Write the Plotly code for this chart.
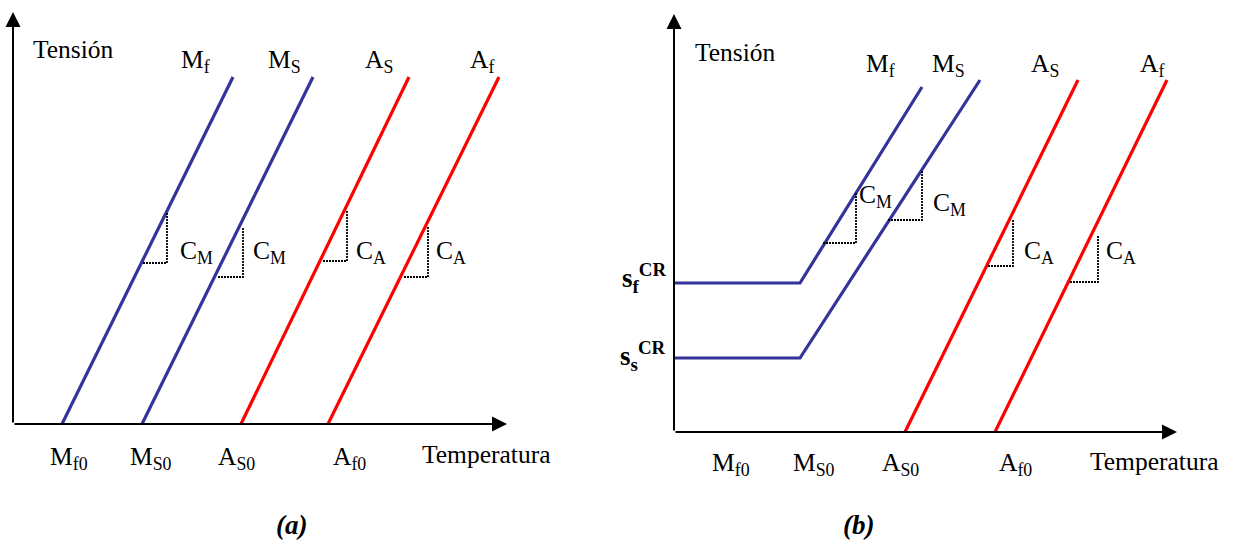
import plotly.graph_objects as go

W, H = 1233, 541

# ---------------- DATA ----------------
# Panel (a): transformation lines (temperature at zero stress -> top end), arbitrary units
a_names = ["Mf", "Ms", "As", "Af"]
a_T_start = [49, 129, 228, 315]
a_T_end = [220, 300, 396, 486]
a_sig_end = [347, 347, 347, 347]
# slope triangles (panel a): base stress, left T, right T, top stress
a_tri_base = [161, 147, 163, 147]
a_tri_left = [130, 205, 310, 391]
a_tri_right = [154, 230, 334, 415]
a_tri_top = [211, 197, 213, 197]

# Panel (b): martensite lines with critical-stress plateau, austenite lines
b_M_names = ["Mf", "Ms"]
b_M_sig_cr = [149, 74]
b_M_T_kink = [126, 126]
b_M_T_end = [248, 306]
b_M_sig_end = [345, 352]
b_A_names = ["As", "Af"]
b_A_T_start = [231, 321]
b_A_T_end = [404, 493]
b_A_sig_end = [352, 352]
# slope triangles (panel b)
b_tri_base = [189, 212, 166, 150]
b_tri_left = [149, 214, 314, 396]
b_tri_right = [182, 248, 339, 424]
b_tri_top = [240, 262, 212, 196]

BLUE = "#333399"
RED = "#ff0000"
a_colors = [BLUE, BLUE, RED, RED]

FONT = "Liberation Serif, Times New Roman, serif"
FS = 25.5
DASH = dict(color="black", width=1.8, dash="2px,1px")

fig = go.Figure()

# panel a lines
for i in range(4):
    fig.add_trace(go.Scatter(x=[a_T_start[i], a_T_end[i]], y=[0, a_sig_end[i]],
                             mode="lines", line=dict(color=a_colors[i], width=3.2),
                             xaxis="x", yaxis="y", hoverinfo="skip"))
for i in range(4):
    fig.add_trace(go.Scatter(x=[a_tri_left[i], a_tri_right[i], a_tri_right[i]],
                             y=[a_tri_base[i], a_tri_base[i], a_tri_top[i]],
                             mode="lines", line=DASH,
                             xaxis="x", yaxis="y", hoverinfo="skip"))

# panel b lines
for i in range(2):
    fig.add_trace(go.Scatter(x=[0, b_M_T_kink[i], b_M_T_end[i]],
                             y=[b_M_sig_cr[i], b_M_sig_cr[i], b_M_sig_end[i]],
                             mode="lines", line=dict(color=BLUE, width=3.2),
                             xaxis="x2", yaxis="y2", hoverinfo="skip", cliponaxis=False))
for i in range(2):
    fig.add_trace(go.Scatter(x=[b_A_T_start[i], b_A_T_end[i]], y=[0, b_A_sig_end[i]],
                             mode="lines", line=dict(color=RED, width=3.2),
                             xaxis="x2", yaxis="y2", hoverinfo="skip"))
for i in range(4):
    fig.add_trace(go.Scatter(x=[b_tri_left[i], b_tri_right[i], b_tri_right[i]],
                             y=[b_tri_base[i], b_tri_base[i], b_tri_top[i]],
                             mode="lines", line=DASH,
                             xaxis="x2", yaxis="y2", hoverinfo="skip"))

ax_common = dict(visible=False, showgrid=False, zeroline=False, fixedrange=True)
fig.update_layout(
    width=W, height=H, margin=dict(l=0, r=0, t=0, b=0),
    paper_bgcolor="white", plot_bgcolor="white", showlegend=False,
    font=dict(family=FONT, size=FS, color="black"),
    xaxis=dict(domain=[13 / W, 507 / W], range=[0, 494], **ax_common),
    yaxis=dict(domain=[1 - 424 / H, 1 - 12 / H], range=[0, 412], **ax_common),
    xaxis2=dict(domain=[674 / W, 1177 / W], range=[0, 503], anchor="y2", **ax_common),
    yaxis2=dict(domain=[1 - 432 / H, 1 - 14 / H], range=[0, 418], anchor="x2", **ax_common),
)

# axes with arrows
def axis_arrow(xr, yr, x, y):
    fig.add_annotation(x=x, y=y, ax=0, ay=0, xref=xr, yref=yr, axref=xr, ayref=yr,
                       text="", showarrow=True, arrowhead=2, arrowsize=1.5,
                       arrowwidth=2, arrowcolor="black")

axis_arrow("x", "y", 494, 0)
axis_arrow("x", "y", 0, 412)
axis_arrow("x2", "y2", 503, 0)
axis_arrow("x2", "y2", 0, 418)

def lab(text, px, py, size=FS):
    fig.add_annotation(text=text, x=px / W, y=1 - py / H, xref="paper", yref="paper",
                       xanchor="left", yanchor="middle", showarrow=False,
                       font=dict(family=FONT, size=size, color="black"))

# panel a labels
lab("Tensión", 31, 49)
lab("M<sub>f</sub>", 179, 61)
lab("M<sub>S</sub>", 266, 61)
lab("A<sub>S</sub>", 363, 61)
lab("A<sub>f</sub>", 468, 61)
lab("C<sub>M</sub>", 178, 252)
lab("C<sub>M</sub>", 251, 252)
lab("C<sub>A</sub>", 354, 252)
lab("C<sub>A</sub>", 434, 252)
lab("M<sub>f0</sub>", 48, 458)
lab("M<sub>S0</sub>", 128, 458)
lab("A<sub>S0</sub>", 216, 458)
lab("A<sub>f0</sub>", 331, 458)
lab("Temperatura", 420, 454)
lab("<b><i>(a)</i></b>", 274, 525, size=27)

# panel b labels
lab("Tensión", 693, 52)
lab("M<sub>f</sub>", 864, 65)
lab("M<sub>S</sub>", 930, 65)
lab("A<sub>S</sub>", 1029, 65)
lab("A<sub>f</sub>", 1138, 65)
lab("C<sub>M</sub>", 857, 196)
lab("C<sub>M</sub>", 931, 204)
lab("C<sub>A</sub>", 1022, 252)
lab("C<sub>A</sub>", 1104, 252)
lab("<b>s<sub>f</sub><sup>CR</sup></b>", 620, 278, size=27)
lab("<b>s<sub>s</sub><sup>CR</sup></b>", 618, 356, size=27)
lab("M<sub>f0</sub>", 710, 464)
lab("M<sub>S0</sub>", 791, 464)
lab("A<sub>S0</sub>", 880, 464)
lab("A<sub>f0</sub>", 997, 464)
lab("Temperatura", 1088, 461)
lab("<b><i>(b)</i></b>", 841, 525, size=27)

fig.write_html("out.html", config={"displayModeBar": False},
               post_script="document.body.style.margin='0px';document.body.style.padding='0px';")
